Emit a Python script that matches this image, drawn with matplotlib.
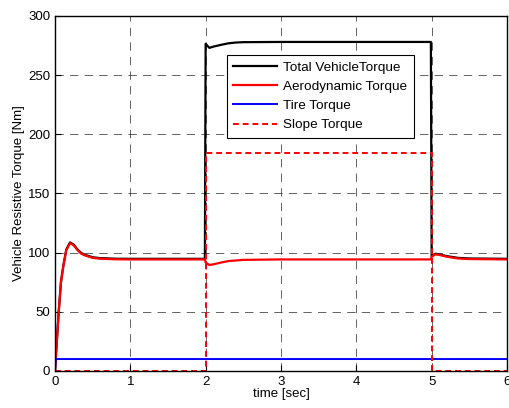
import numpy as np
import matplotlib.pyplot as plt

plt.rcParams['font.family'] = ['Liberation Sans', 'DejaVu Sans']

# =============================================================================
# Datos
# =============================================================================

t_aero = [0, 0.01, 0.03, 0.05, 0.08, 0.11, 0.15, 0.2, 0.25, 0.3, 0.35, 0.4,
          0.5, 0.6, 0.8, 1.0, 1.5, 1.99, 2.0, 2.05, 2.1, 2.2, 2.3, 2.5, 3.0,
          4.0, 4.99, 5.0, 5.05, 5.1, 5.2, 5.35, 5.5, 6.0]
aero = [0, 10, 30, 50, 75, 88, 102, 108, 106, 102, 99, 97.5,
        95.5, 94.8, 94.3, 94.2, 94.2, 94.2, 91.5, 89.5, 90, 91.5, 92.8, 93.8, 94.2,
        94.2, 94.2, 96.5, 98.5, 98, 96.5, 95, 94.5, 94.2]

t_total = [0, 0.01, 0.03, 0.05, 0.08, 0.11, 0.15, 0.2, 0.25, 0.3, 0.35, 0.4,
           0.5, 0.6, 0.8, 1.0, 1.5, 1.99, 2.0, 2.02, 2.05, 2.1, 2.2, 2.3, 2.4,
           2.5, 3.0, 4.0, 4.99, 5.0, 5.05, 5.1, 5.2, 5.35, 5.5, 6.0]
total = [0, 10.5, 30.5, 50.5, 75.5, 88.5, 102.5, 108.6, 106.6, 102.6, 99.6, 98,
         96, 95.3, 94.8, 94.7, 94.7, 94.7, 276.5, 275, 273, 274, 275.5, 276.8, 277.5,
         277.8, 278, 278, 278, 97, 99, 98.5, 97, 95.5, 95, 94.7]

t_tire = [0, 0.01, 6]
tire = [0, 10, 10]

t_slope = [0, 2, 2, 5, 5, 6]
slope = [0, 0, 184, 184, 0, 0]

# =============================================================================
# Gráfica
# =============================================================================

fig = plt.figure(figsize=(5.09, 4.08), dpi=100)
ax = fig.add_axes([0.108, 0.091, 0.888, 0.870])

ax.plot(t_total, total, color='black', linewidth=1.6, label="Total VehicleTorque")
ax.plot(t_aero, aero, color='red', linewidth=1.6, label="Aerodynamic Torque")
ax.plot(t_tire, tire, color='blue', linewidth=1.4, label="Tire Torque")
ax.plot(t_slope, slope, color='red', linewidth=1.4, linestyle='--',
        dashes=(3, 2), label="Slope Torque")

ax.set_xlim(0, 6)
ax.set_ylim(0, 300)
ax.set_xticks(range(0, 7))
ax.set_yticks(range(0, 301, 50))
ax.tick_params(direction='in', length=4, labelsize=9.5, width=0.8)
ax.grid(True, color='0.15', linestyle=(0, (12, 9)), linewidth=0.5)
for s in ax.spines.values():
    s.set_linewidth(1.0)

ax.set_xlabel("time [sec]", fontsize=9.5, labelpad=0)
ax.set_ylabel("Vehicle Resistive Torque [Nm]", fontsize=9.5, labelpad=2)

leg = ax.legend(loc='upper left', bbox_to_anchor=(0.365, 0.91), fontsize=9.7,
                fancybox=False, edgecolor='black', framealpha=1,
                handlelength=3.2, borderpad=0.5, labelspacing=0.5,
                handletextpad=0.5)
leg.get_frame().set_linewidth(0.8)

plt.savefig('out.png', dpi=100)
